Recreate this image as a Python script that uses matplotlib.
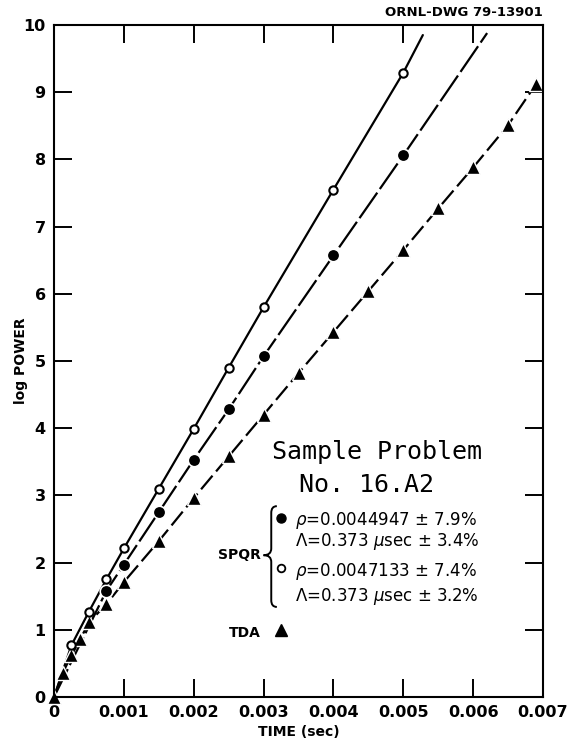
import numpy as np
import matplotlib.pyplot as plt
from matplotlib.path import Path
from matplotlib.patches import PathPatch

# SPQR, open circles (rho = 0.0047133)
open_t = [0.00025, 0.0005, 0.00075, 0.001, 0.0015, 0.002, 0.0025, 0.003, 0.004, 0.005]
open_p = [0.77, 1.27, 1.75, 2.21, 3.10, 3.99, 4.90, 5.80, 7.55, 9.29]
open_end_t, open_end_p = 0.00528, 9.85

# SPQR, filled circles (rho = 0.0044947)
filled_t = [0.00075, 0.001, 0.0015, 0.002, 0.0025, 0.003, 0.004, 0.005]
filled_p = [1.58, 1.97, 2.75, 3.53, 4.28, 5.07, 6.57, 8.06]
filled_end_t, filled_end_p = 0.0062, 9.88

# TDA, triangles
tri_t = [0.0, 0.000125, 0.00025, 0.000375, 0.0005, 0.00075, 0.001, 0.0015, 0.002,
         0.0025, 0.003, 0.0035, 0.004, 0.0045, 0.005, 0.0055, 0.006, 0.0065, 0.0069]
tri_p = [0.0, 0.36, 0.62, 0.86, 1.11, 1.38, 1.71, 2.32, 2.96,
         3.58, 4.20, 4.82, 5.43, 6.04, 6.65, 7.27, 7.88, 8.51, 9.12]

x_ticks = [0, 0.001, 0.002, 0.003, 0.004, 0.005, 0.006, 0.007]
x_labels = ['0', '0.001', '0.002', '0.003', '0.004', '0.005', '0.006', '0.007']
y_ticks = list(range(11))

fig = plt.figure(figsize=(5.68, 7.52), dpi=100)
ax = fig.add_axes([54 / 568, 1 - 697 / 752, (543 - 54) / 568, (697 - 25) / 752])

# curves (start at origin, run past last marker)
ax.plot([0.0] + open_t + [open_end_t], [0.0] + open_p + [open_end_p],
        color='black', lw=1.6, solid_capstyle='round')
ax.plot([0.0] + filled_t + [filled_end_t], [0.0] + filled_p + [filled_end_p],
        color='black', lw=1.6, dashes=(14, 2))
ax.plot(tri_t, tri_p, color='black', lw=1.6, dashes=(8, 2.5))

# markers
ax.plot(filled_t, filled_p, 'o', ms=9, mfc='black', mec='white', mew=1.2)
ax.plot(tri_t, tri_p, '^', ms=9.5, mfc='black', mec='white', mew=1.0, clip_on=False)
ax.plot(open_t, open_p, 'o', ms=6, mfc='white', mec='black', mew=1.5)

ax.set_xlim(0, 0.007)
ax.set_ylim(0, 10)
ax.set_xticks(x_ticks)
ax.set_xticklabels(x_labels)
ax.set_yticks(y_ticks)
ax.tick_params(direction='in', length=13, width=1.4, top=True, right=True,
               labelsize=11.5, pad=6)
for lab in ax.get_xticklabels() + ax.get_yticklabels():
    lab.set_fontweight('bold')
for s in ax.spines.values():
    s.set_linewidth(1.5)

ax.set_xlabel('TIME (sec)', fontsize=10, fontweight='bold', labelpad=3)
ax.set_ylabel('log POWER', fontsize=10, fontweight='bold', labelpad=-3)

fig.text(543 / 568, 1 - 13 / 752, 'ORNL-DWG 79-13901', ha='right', va='center',
         fontsize=9.5, fontweight='bold')

# annotation block
ax.text(0.00462, 3.65, 'Sample Problem', ha='center', va='center',
        family='DejaVu Sans Mono', fontsize=18)
ax.text(0.00448, 3.15, 'No. 16.A2', ha='center', va='center',
        family='DejaVu Sans Mono', fontsize=18)

ax.plot([0.00325], [2.66], 'o', ms=6.5, color='black')
ax.plot([0.00325], [1.92], 'o', ms=5.5, mfc='white', mec='black', mew=1.3)
ax.plot([0.00325], [1.0], '^', ms=8, color='black')

ax.text(0.00345, 2.63, r'$\rho$=0.0044947 ± 7.9%', va='center', fontsize=12)
ax.text(0.00345, 2.32, r'$\Lambda$=0.373 $\mu$sec ± 3.4%', va='center', fontsize=12)
ax.text(0.00345, 1.875, r'$\rho$=0.0047133 ± 7.4%', va='center', fontsize=12)
ax.text(0.00345, 1.49, r'$\Lambda$=0.373 $\mu$sec ± 3.2%', va='center', fontsize=12)

ax.text(0.00296, 2.11, 'SPQR', ha='right', va='center', fontsize=10, fontweight='bold')
ax.text(0.00296, 0.95, 'TDA', ha='right', va='center', fontsize=10, fontweight='bold')

# brace
bx, btop, bbot, bmid, tip = 0.00311, 2.84, 1.34, 2.11, 0.00300
verts = [(bx + 0.00008, btop), (bx, btop), (bx, btop - 0.1), (bx, bmid + 0.1),
         (bx, bmid), (tip, bmid), (tip, bmid),
         (bx, bmid), (bx, bmid - 0.1), (bx, bbot + 0.1),
         (bx, bbot), (bx + 0.00008, bbot), (bx + 0.00008, bbot)]
codes = [Path.MOVETO, Path.CURVE3, Path.CURVE3, Path.LINETO,
         Path.CURVE3, Path.CURVE3, Path.MOVETO,
         Path.CURVE3, Path.CURVE3, Path.LINETO,
         Path.CURVE3, Path.CURVE3, Path.LINETO]
ax.add_patch(PathPatch(Path(verts, codes), fill=False, lw=1.4, color='black'))

fig.savefig('out.png', dpi=100)
